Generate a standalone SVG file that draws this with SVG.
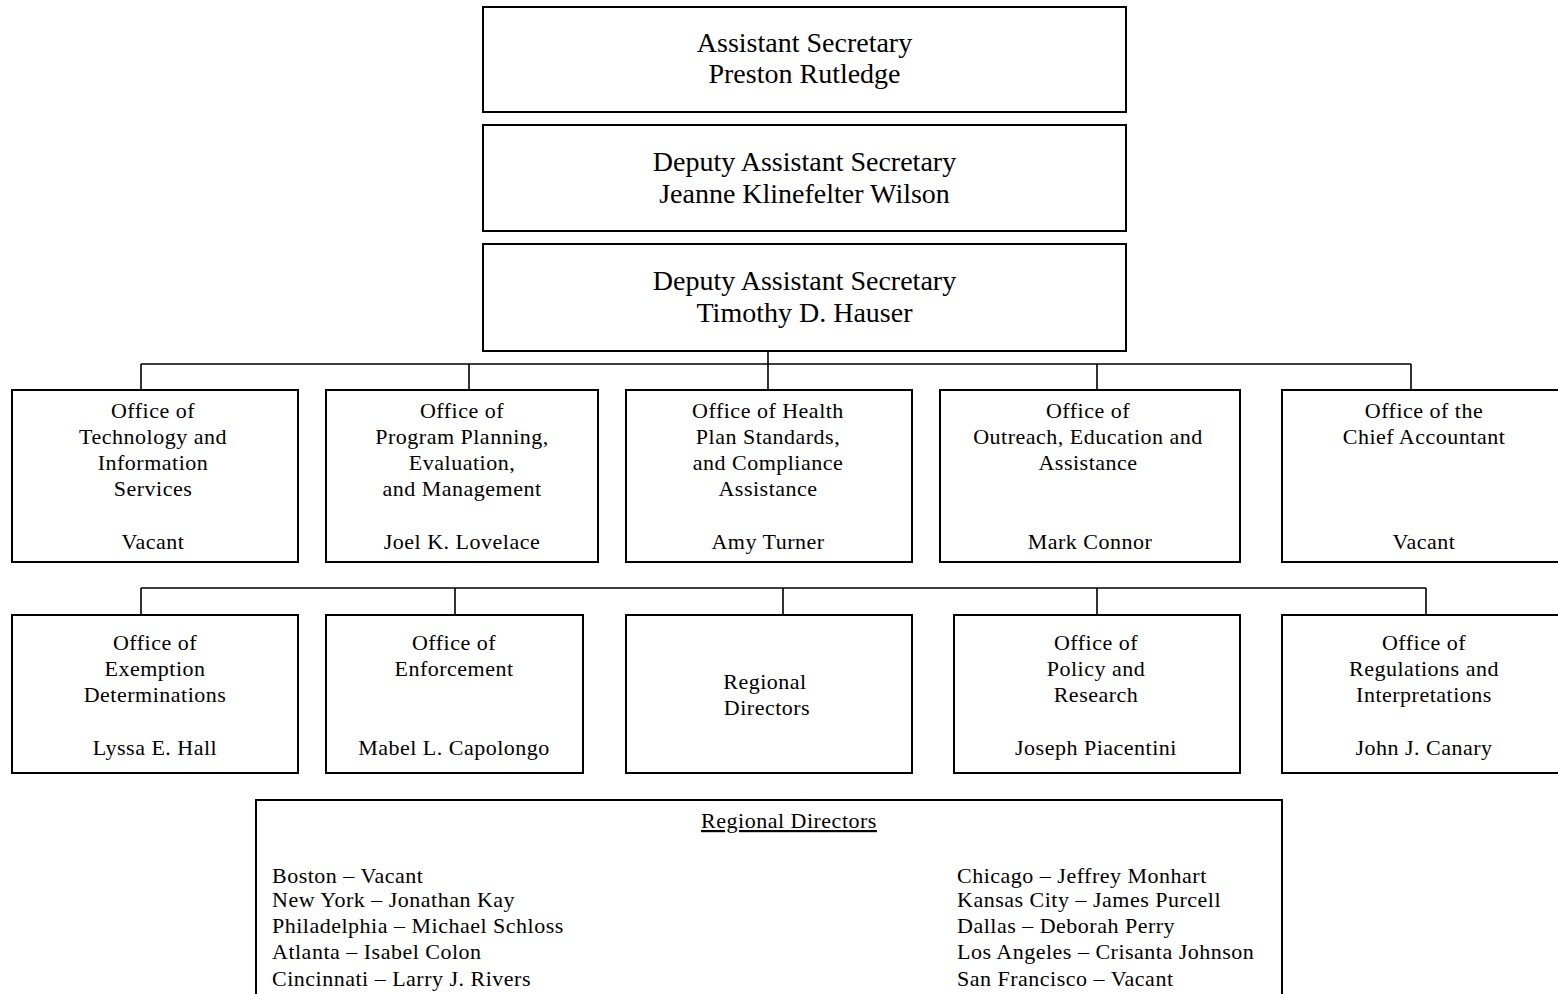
<svg xmlns="http://www.w3.org/2000/svg" width="1558" height="994" viewBox="0 0 1558 994">
<style>
.box{fill:#fff;stroke:#000;stroke-width:2}
.conn{stroke:#000;stroke-width:1.6;fill:none}
.t{font-family:"Liberation Serif","Times New Roman",serif;fill:#000}
.big{font-size:28px;text-anchor:middle}
.m{font-size:22px;letter-spacing:0.5px;text-anchor:middle}
.l{font-size:22px;letter-spacing:0.5px}
</style>
<rect width="1558" height="994" fill="#fff"/>
<g id="connectors">
<path class="conn" d="M768,351V364M141,364H1411M141,364V390M469,364V390M768,364V390M1097,364V390M1411,364V390"/>
<path class="conn" d="M141,588H1426M141,588V615M455,588V615M783,588V615M1097,588V615M1426,588V615"/>
</g>
<g id="asst-sec">
<rect class="box" x="483" y="7" width="643" height="105"/>
<text class="t big" x="804.5" y="52">Assistant Secretary</text>
<text class="t big" x="804.5" y="83">Preston Rutledge</text>
</g>
<g id="deputy-wilson">
<rect class="box" x="483" y="125" width="643" height="106"/>
<text class="t big" x="804.5" y="171">Deputy Assistant Secretary</text>
<text class="t big" x="804.5" y="203">Jeanne Klinefelter Wilson</text>
</g>
<g id="deputy-hauser">
<rect class="box" x="483" y="244" width="643" height="107"/>
<text class="t big" x="804.5" y="290">Deputy Assistant Secretary</text>
<text class="t big" x="804.5" y="322">Timothy D. Hauser</text>
</g>
<g id="otis">
<rect class="box" x="12" y="390" width="286" height="172"/>
<text class="t m" x="153" y="418">Office of</text>
<text class="t m" x="153" y="444">Technology and</text>
<text class="t m" x="153" y="470">Information</text>
<text class="t m" x="153" y="496">Services</text>
<text class="t m" x="153" y="549">Vacant</text>
</g>
<g id="oppem">
<rect class="box" x="326" y="390" width="272" height="172"/>
<text class="t m" x="462" y="418">Office of</text>
<text class="t m" x="462" y="444">Program Planning,</text>
<text class="t m" x="462" y="470">Evaluation,</text>
<text class="t m" x="462" y="496">and Management</text>
<text class="t m" x="462" y="549">Joel K. Lovelace</text>
</g>
<g id="ohpsca">
<rect class="box" x="626" y="390" width="286" height="172"/>
<text class="t m" x="768" y="418">Office of Health</text>
<text class="t m" x="768" y="444">Plan Standards,</text>
<text class="t m" x="768" y="470">and Compliance</text>
<text class="t m" x="768" y="496">Assistance</text>
<text class="t m" x="768" y="549">Amy Turner</text>
</g>
<g id="oeea">
<rect class="box" x="940" y="390" width="300" height="172"/>
<text class="t m" x="1088" y="418">Office of</text>
<text class="t m" x="1088" y="444">Outreach, Education and</text>
<text class="t m" x="1088" y="470">Assistance</text>
<text class="t m" x="1090" y="549">Mark Connor</text>
</g>
<g id="oca">
<rect class="box" x="1282" y="390" width="284" height="172"/>
<text class="t m" x="1424" y="418">Office of the</text>
<text class="t m" x="1424" y="444">Chief Accountant</text>
<text class="t m" x="1424" y="549">Vacant</text>
</g>
<g id="oed">
<rect class="box" x="12" y="615" width="286" height="158"/>
<text class="t m" x="155" y="650">Office of</text>
<text class="t m" x="155" y="676">Exemption</text>
<text class="t m" x="155" y="702">Determinations</text>
<text class="t m" x="155" y="755">Lyssa E. Hall</text>
</g>
<g id="oe">
<rect class="box" x="326" y="615" width="257" height="158"/>
<text class="t m" x="454" y="650">Office of</text>
<text class="t m" x="454" y="676">Enforcement</text>
<text class="t m" x="454" y="755">Mabel L. Capolongo</text>
</g>
<g id="regional">
<rect class="box" x="626" y="615" width="286" height="158"/>
<text class="t m" x="765" y="689">Regional</text>
<text class="t m" x="767" y="715">Directors</text>
</g>
<g id="opr">
<rect class="box" x="954" y="615" width="286" height="158"/>
<text class="t m" x="1096" y="650">Office of</text>
<text class="t m" x="1096" y="676">Policy and</text>
<text class="t m" x="1096" y="702">Research</text>
<text class="t m" x="1096" y="755">Joseph Piacentini</text>
</g>
<g id="ori">
<rect class="box" x="1282" y="615" width="284" height="158"/>
<text class="t m" x="1424" y="650">Office of</text>
<text class="t m" x="1424" y="676">Regulations and</text>
<text class="t m" x="1424" y="702">Interpretations</text>
<text class="t m" x="1424" y="755">John J. Canary</text>
</g>
<g id="regional-list">
<rect class="box" x="256" y="800" width="1026" height="210"/>
<text class="t m" x="789" y="828" text-decoration="underline">Regional Directors</text>
<text class="t l" x="272" y="883">Boston – Vacant</text>
<text class="t l" x="272" y="907">New York – Jonathan Kay</text>
<text class="t l" x="272" y="933">Philadelphia – Michael Schloss</text>
<text class="t l" x="272" y="959">Atlanta – Isabel Colon</text>
<text class="t l" x="272" y="986">Cincinnati – Larry J. Rivers</text>
<text class="t l" x="957" y="883">Chicago – Jeffrey Monhart</text>
<text class="t l" x="957" y="907">Kansas City – James Purcell</text>
<text class="t l" x="957" y="933">Dallas – Deborah Perry</text>
<text class="t l" x="957" y="959">Los Angeles – Crisanta Johnson</text>
<text class="t l" x="957" y="986">San Francisco – Vacant</text>
</g>
</svg>
